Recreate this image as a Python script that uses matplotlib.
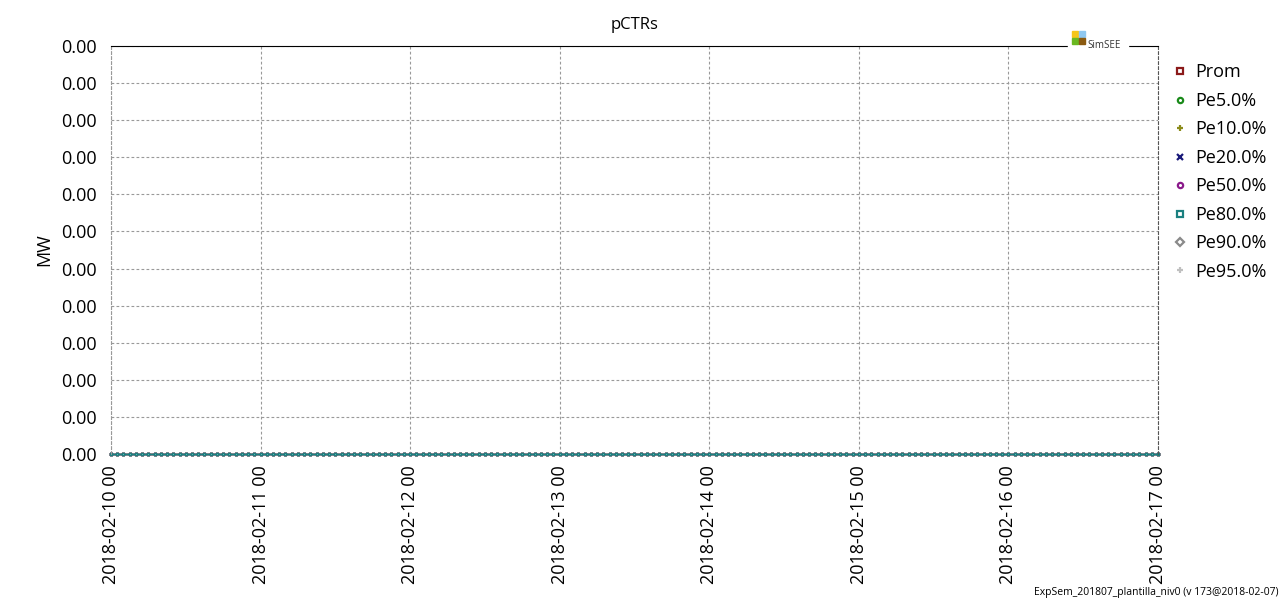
import numpy as np
import pandas as pd
import matplotlib
matplotlib.use('Agg')
import matplotlib.pyplot as plt
import matplotlib.dates as mdates
from matplotlib.patches import Rectangle

plt.rcParams['font.family'] = ['Open Sans', 'DejaVu Sans']

# hourly time stamps, one week
fechas = pd.date_range('2018-02-10 00:00', '2018-02-17 00:00', freq='h')
n = len(fechas)

# all series read as zero from the picture
prom = [0.0] * n
pe5 = [0.0] * n
pe10 = [0.0] * n
pe20 = [0.0] * n
pe50 = [0.0] * n
pe80 = [0.0] * n
pe90 = [0.0] * n
pe95 = [0.0] * n

series = [
    ('Prom', prom, '#8b1a1a', 's'),
    ('Pe5.0%', pe5, '#1a8a1a', 'o'),
    ('Pe10.0%', pe10, '#8b8b1a', '+'),
    ('Pe20.0%', pe20, '#1a1a7a', 'x'),
    ('Pe50.0%', pe50, '#8b1a8b', 'o'),
    ('Pe95.0%', pe95, '#c0c0c0', '+'),
    ('Pe90.0%', pe90, '#8a8a8a', 'D'),
    ('Pe80.0%', pe80, '#1a8080', 's'),
]
legend_order = ['Prom', 'Pe5.0%', 'Pe10.0%', 'Pe20.0%', 'Pe50.0%', 'Pe80.0%', 'Pe90.0%', 'Pe95.0%']

fig = plt.figure(figsize=(12.8, 5.98), dpi=100)
ax = fig.add_axes([0.0867, 0.2408, 0.8180, 0.6823])

handles = {}
for name, vals, col, mk in series:
    h, = ax.plot(fechas, vals, color=col, lw=1, marker=mk, ms=2,
                 mfc='white' if mk in ('s', 'o', 'D') else col, mec=col, mew=1.0,
                 label=name, clip_on=False)
    handles[name] = h

ax.set_xlim(fechas[0], fechas[-1])
ax.set_ylim(0, 0.0011)
ax.set_yticks(np.arange(12) * 0.0001)
ax.yaxis.set_major_formatter(plt.FormatStrFormatter('%.2f'))
ax.xaxis.set_major_locator(mdates.DayLocator())
ax.xaxis.set_major_formatter(mdates.DateFormatter('%Y-%m-%d %H'))
plt.setp(ax.get_xticklabels(), rotation=90)
ax.tick_params(axis='both', labelsize=13, length=0)
ax.tick_params(axis='y', pad=10)
ax.tick_params(axis='x', pad=8)

ax.grid(True, color='#999999', ls=(0, (2.5, 2)), lw=0.8)
ax.spines['left'].set_linestyle((0, (2.5, 2)))
ax.spines['left'].set_color('#999999')
ax.spines['right'].set_linestyle((0, (2.5, 2)))
ax.spines['right'].set_color('#555555')
ax.spines['bottom'].set_visible(False)
ax.spines['top'].set_color('black')

ax.set_ylabel('MW', fontsize=13, labelpad=6)
ax.set_title('pCTRs', fontsize=12, pad=12)

leg = ax.legend([handles[k] for k in legend_order], legend_order,
                loc='upper left', bbox_to_anchor=(0.999, 0.997), frameon=False,
                fontsize=13, handlelength=0.8, handletextpad=0.4,
                labelspacing=0.58)
for lh in leg.legend_handles:
    lh.set_linestyle('none')
    lh.set_markeredgewidth(1.6)
    lh.set_markersize(5 if lh.get_marker() in ('+', 'x') else 3.8)

# SimSEE logo over the top frame
fig.patches.append(Rectangle((1068 / 1280, 1 - 50 / 598), 60 / 1280, 22 / 598,
                             transform=fig.transFigure, color='white', zorder=5))
for (x0, y0), c in zip([(1072, 31), (1079, 31), (1072, 38), (1079, 38)],
                       ['#f5c518', '#8fc8f0', '#6ab820', '#8b5a10']):
    fig.patches.append(Rectangle((x0 / 1280, 1 - (y0 + 6) / 598), 6 / 1280, 6 / 598,
                                 transform=fig.transFigure, color=c, zorder=6))
fig.text(1087 / 1280, 1 - 48 / 598, 'SimSEE', fontsize=7, color='#333333',
         va='baseline', ha='left', zorder=7)

fig.text(1278 / 1280, 3 / 598, 'ExpSem_201807_plantilla_niv0 (v 173@2018-02-07)',
         fontsize=7.5, ha='right', va='baseline')

fig.savefig('out.png', dpi=100)
